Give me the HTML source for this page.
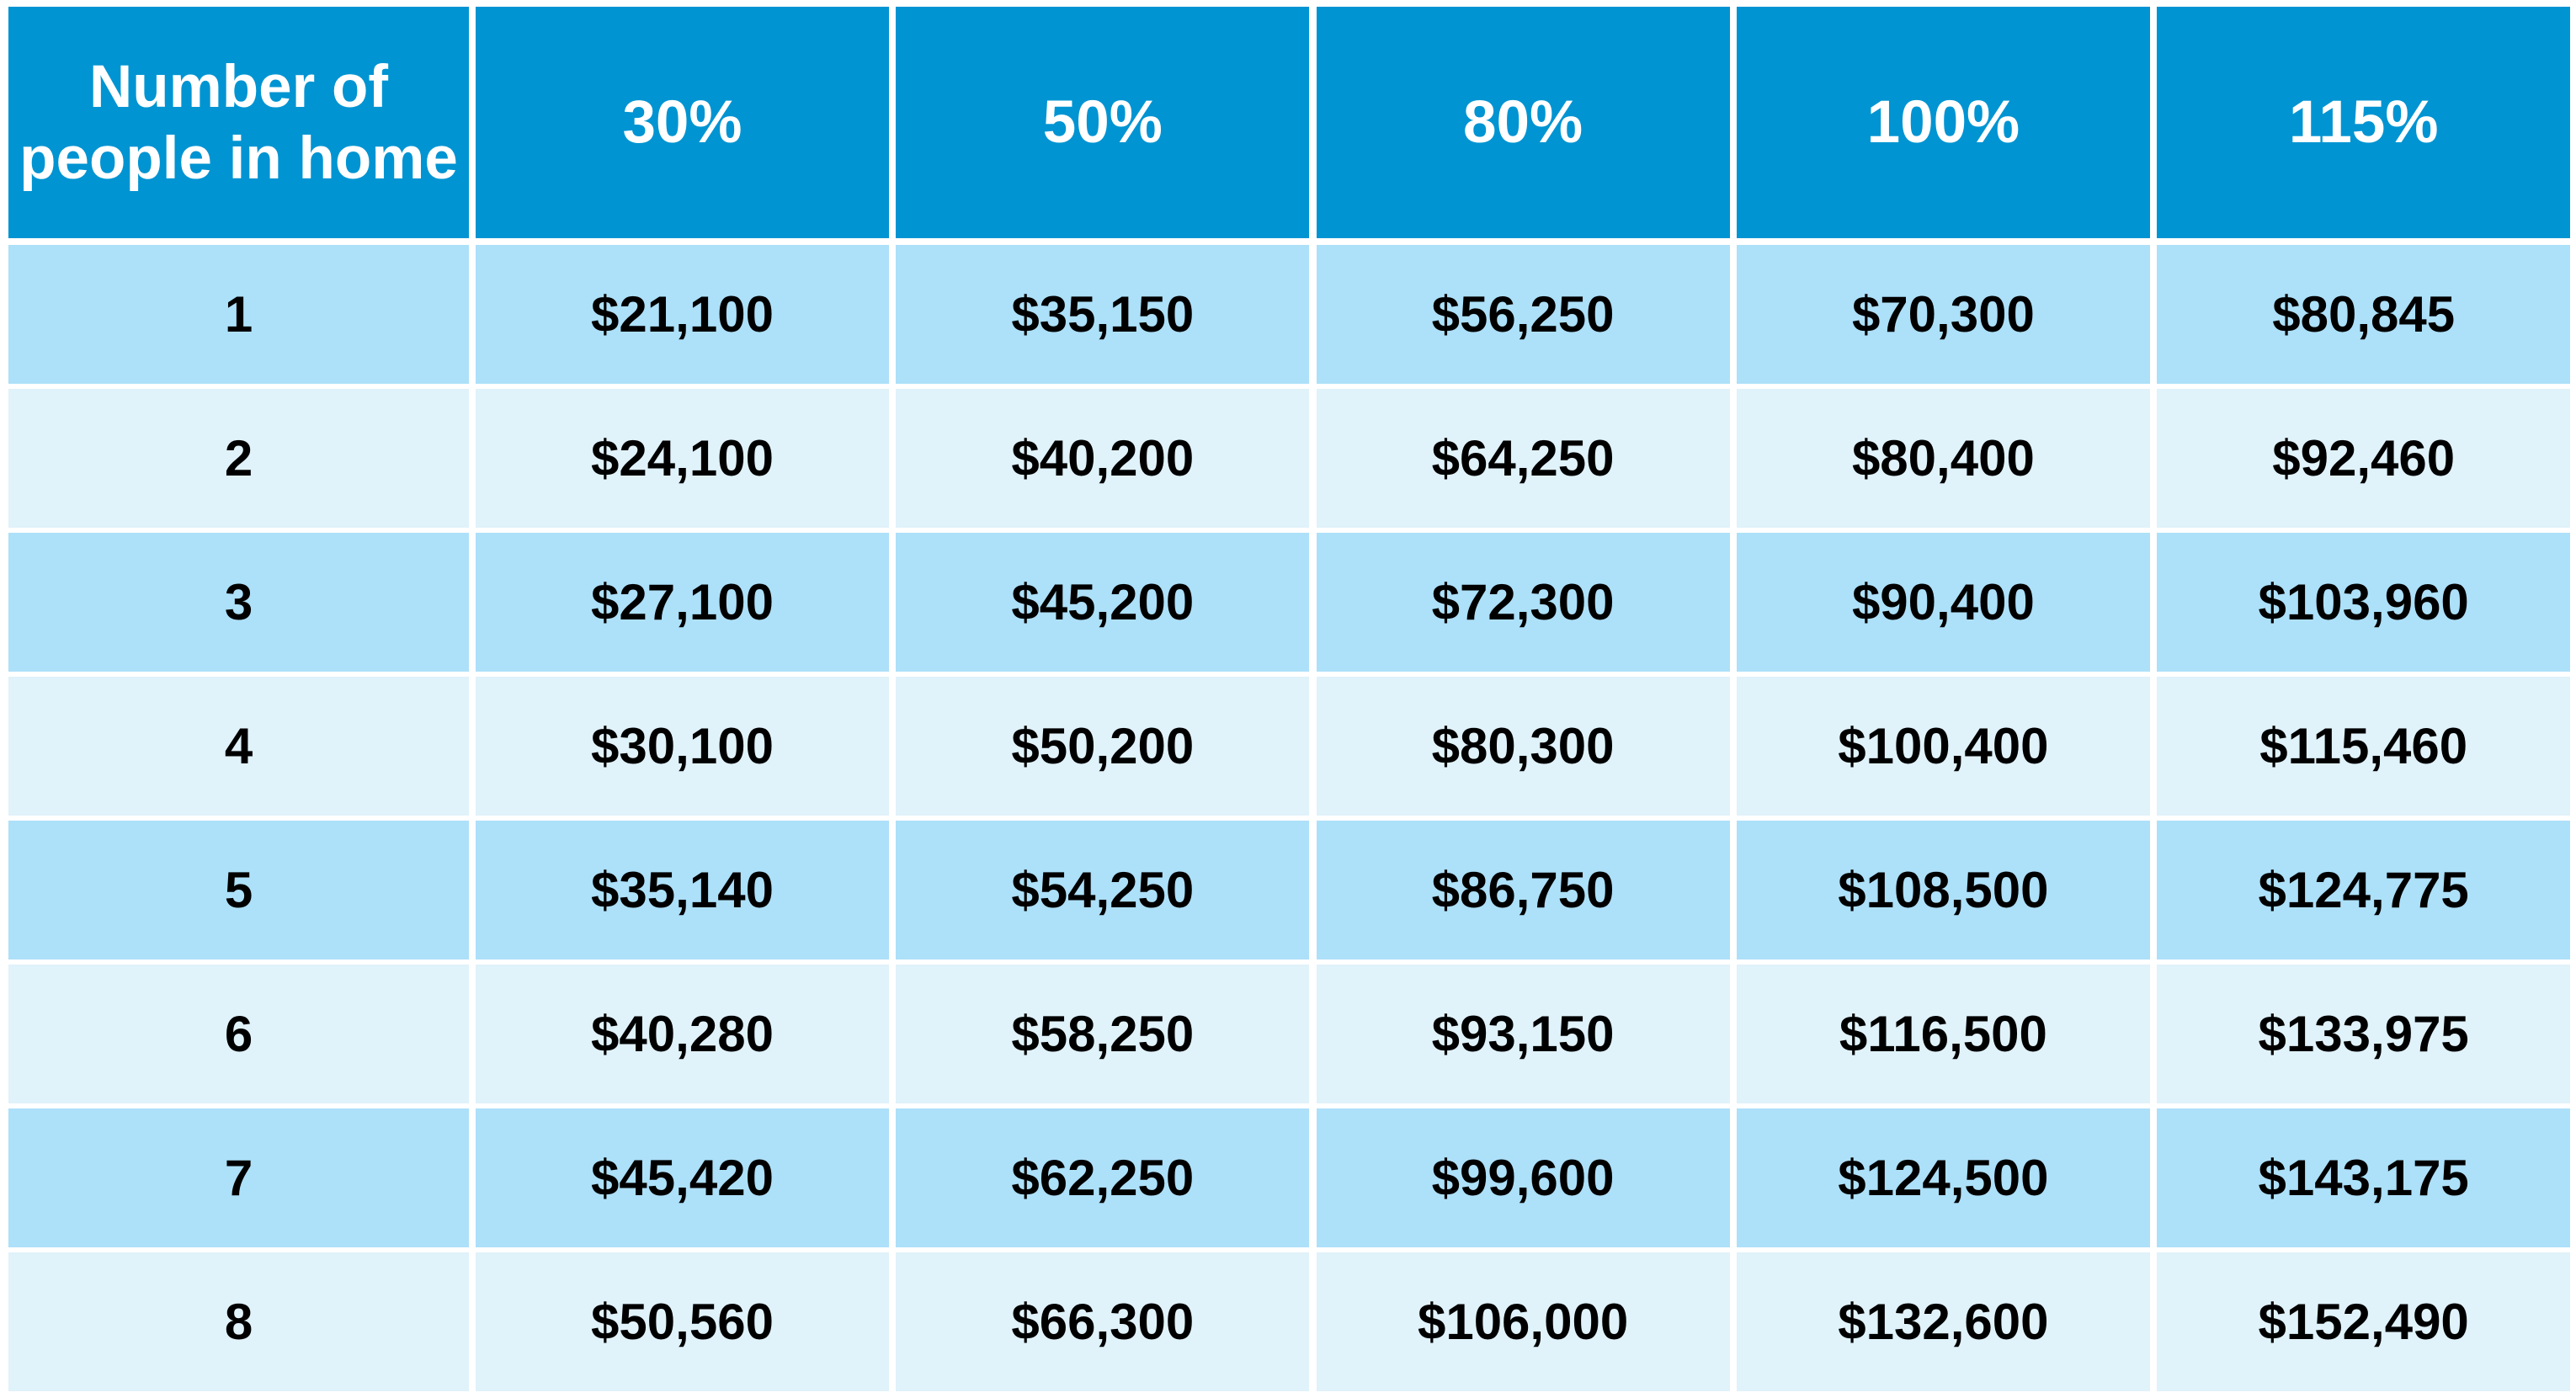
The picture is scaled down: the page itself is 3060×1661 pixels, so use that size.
<!DOCTYPE html>
<html><head><meta charset="utf-8"><style>
body{margin:0;width:3060px;height:1661px;background:#fff;overflow:hidden;font-family:"Liberation Sans",Arial,sans-serif;}
#tbl{position:absolute;left:0;top:0;width:3060px;height:1661px;}
.c{position:absolute;display:flex;align-items:center;justify-content:center;text-align:center;font-weight:bold;box-sizing:border-box;}
.h{background:#0094D2;color:#fff;font-size:71px;line-height:85px;}
.o{background:#ADE0F9;color:#000;font-size:60px;}
.e{background:#E0F2FA;color:#000;font-size:60px;}
</style></head><body>
<div id="tbl"></div>
<script>
const headers = ["Number of<br>people in home","30%","50%","80%","100%","115%"];
const people = ["1","2","3","4","5","6","7","8"];
const pct30 = ["$21,100","$24,100","$27,100","$30,100","$35,140","$40,280","$45,420","$50,560"];
const pct50 = ["$35,150","$40,200","$45,200","$50,200","$54,250","$58,250","$62,250","$66,300"];
const pct80 = ["$56,250","$64,250","$72,300","$80,300","$86,750","$93,150","$99,600","$106,000"];
const pct100 = ["$70,300","$80,400","$90,400","$100,400","$108,500","$116,500","$124,500","$132,600"];
const pct115 = ["$80,845","$92,460","$103,960","$115,460","$124,775","$133,975","$143,175","$152,490"];
const cols = [people,pct30,pct50,pct80,pct100,pct115];
const colNames = ["people","30-percent","50-percent","80-percent","100-percent","115-percent"];
const tbl = document.getElementById('tbl');
function colX(i){ return i===0 ? 10 : 565 + (i-1)*499.3; }
function colW(i){ return i===0 ? 547 : 491; }
function mk(cls,x,y,w,h,html){
  const d=document.createElement('div');
  d.className='c '+cls;
  d.style.left=x+'px';d.style.top=y+'px';d.style.width=w+'px';d.style.height=h+'px';
  d.innerHTML=html;
  tbl.appendChild(d);
  return d;
}
headers.forEach((t,i)=>{
  const d=mk('h',colX(i),8,colW(i),275,t);
  
  
});
for(let r=0;r<people.length;r++){
  const y=291+r*171;
  cols.forEach((arr,i)=>{
    const d=mk(r%2===0?'o':'e',colX(i),y,colW(i),165,arr[r]);
    
    
  });
}
</script>
</body></html>
